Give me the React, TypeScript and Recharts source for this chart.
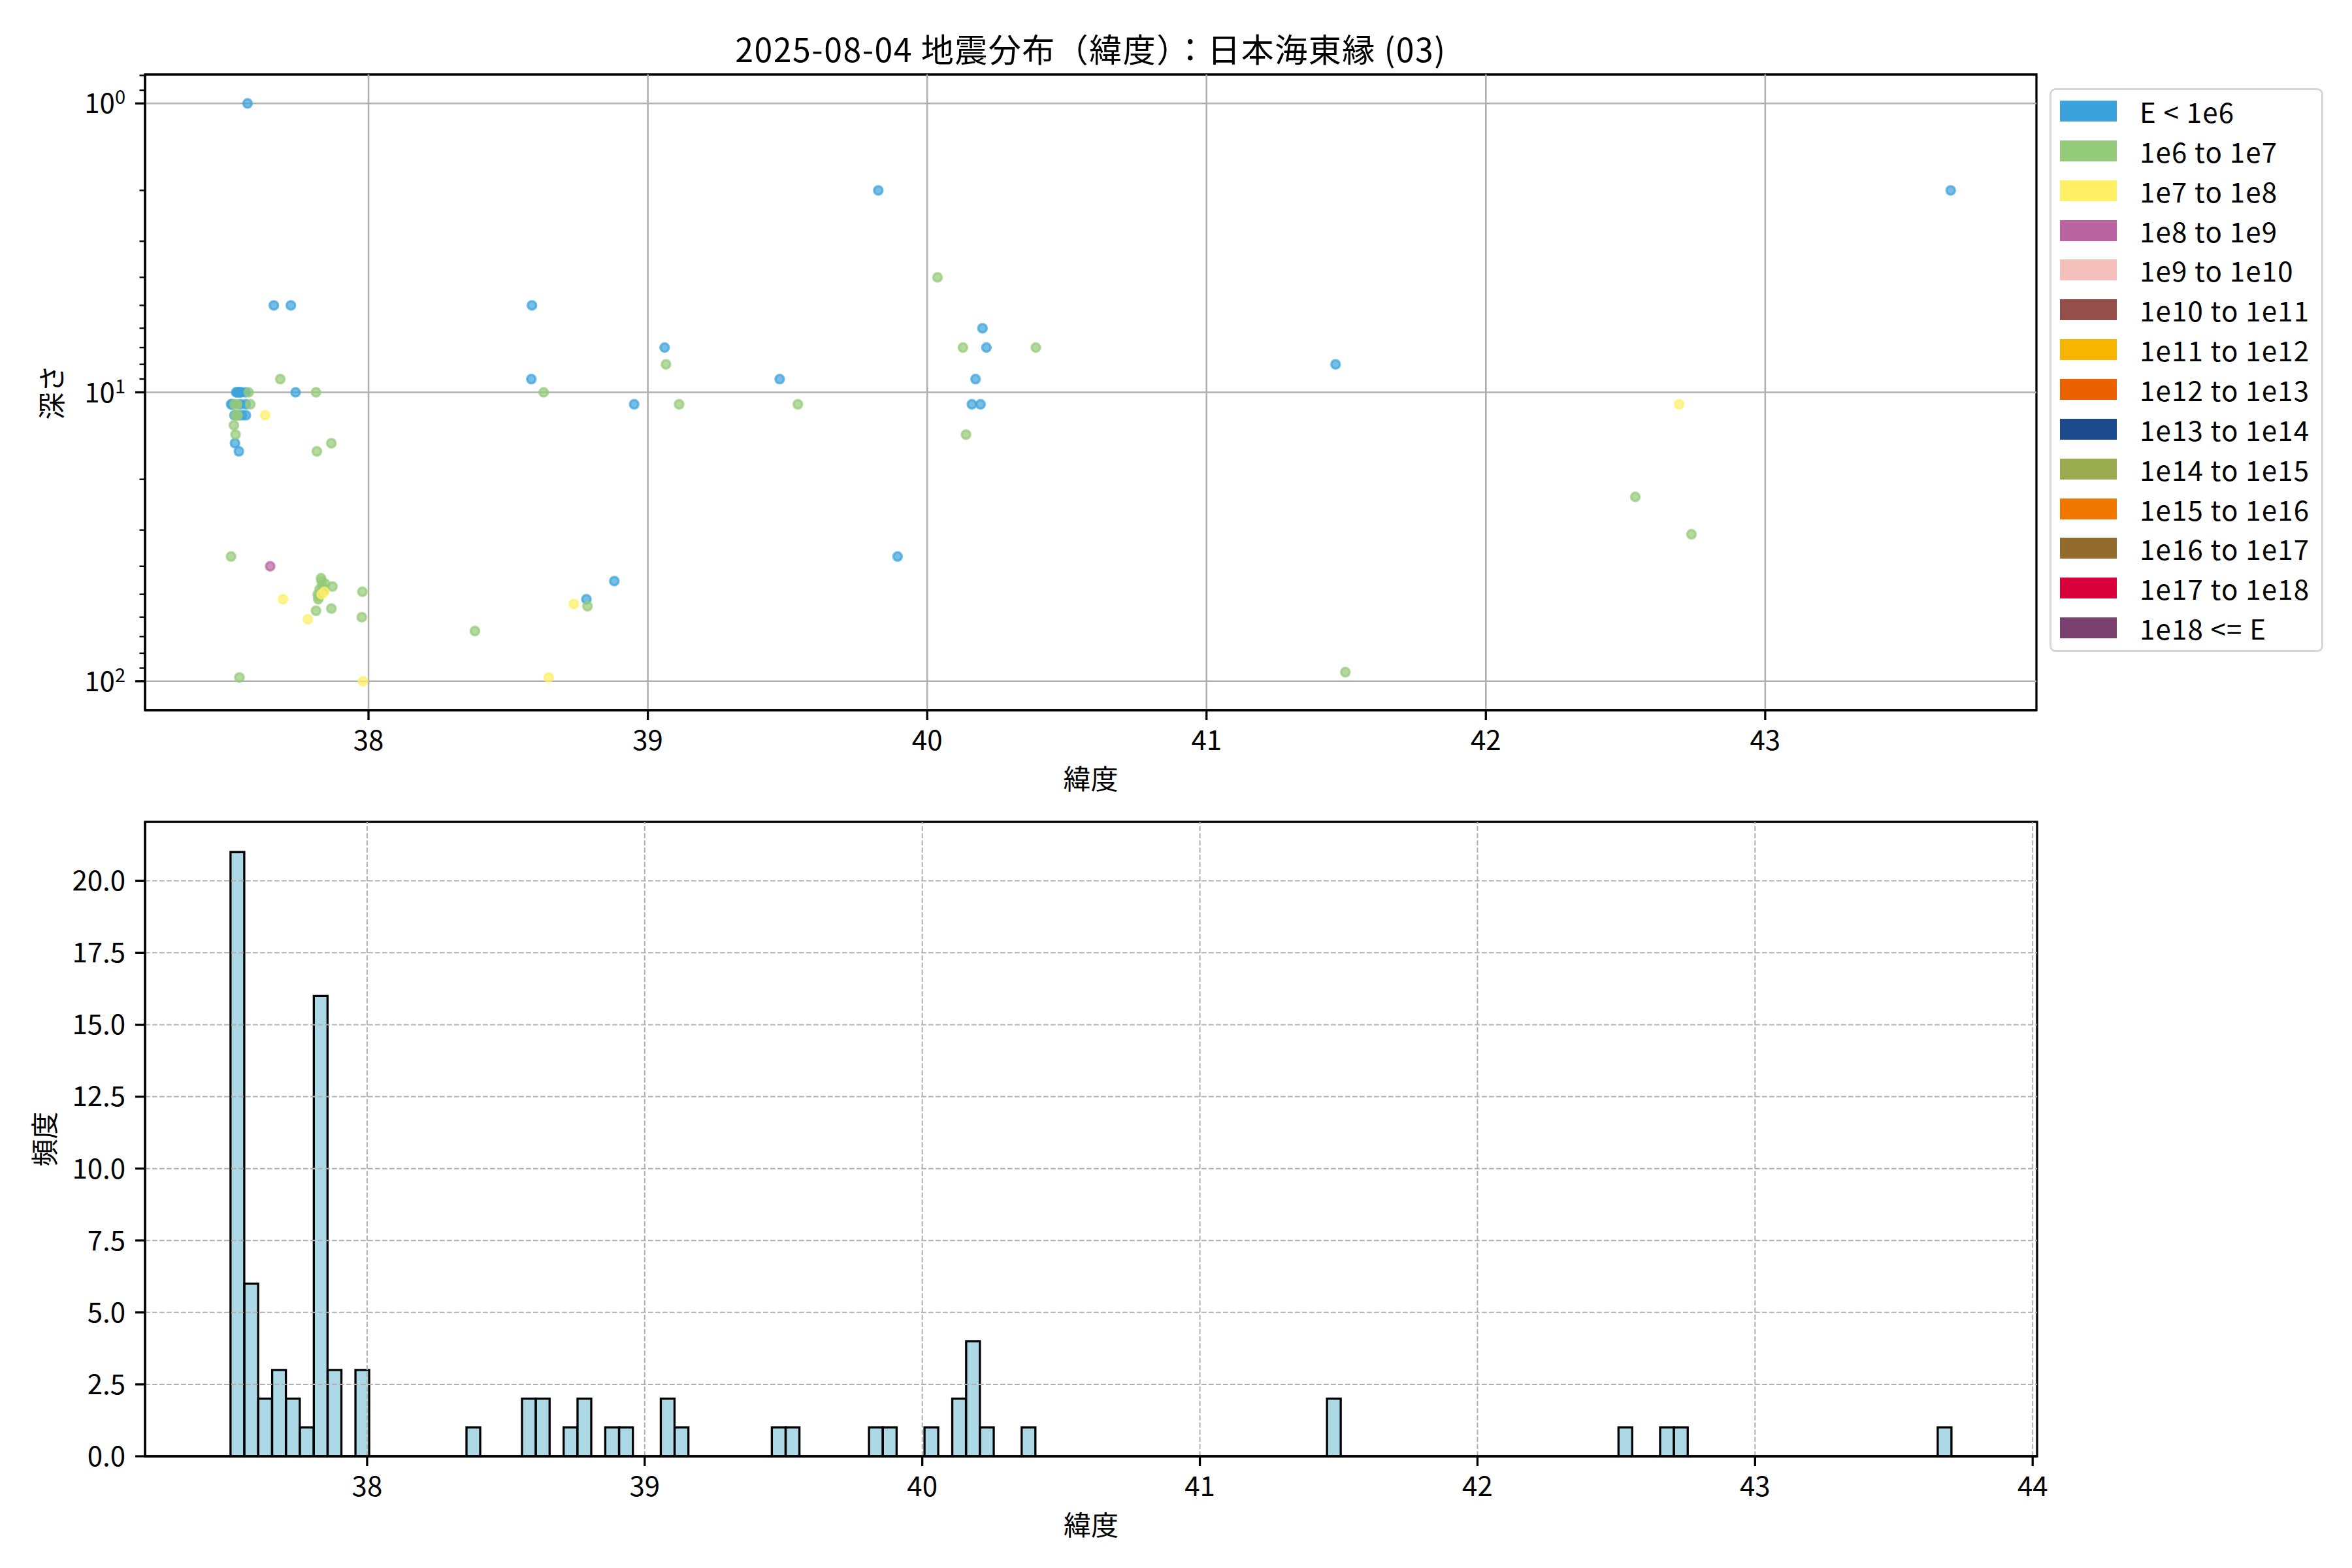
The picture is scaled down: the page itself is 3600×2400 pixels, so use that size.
import { Bar, BarChart, Label, ReferenceArea, ReferenceLine, Scatter, ScatterChart, XAxis, YAxis } from "recharts"

const FONT = '"Noto Sans CJK JP", "Noto Sans", sans-serif'

// scatter: latitude / depth per energy class
const blueLat = [37.567, 37.661, 37.722, 37.526, 37.545, 37.535, 37.54, 37.53, 37.739, 37.508, 37.561, 37.542, 37.512, 37.52, 37.535, 37.561, 37.548, 37.522, 37.536, 37.56, 38.585, 38.583, 39.06, 38.951, 38.88, 38.78, 39.825, 40.198, 40.212, 39.472, 40.173, 40.16, 40.191, 39.894, 41.462, 43.664]
const blueDepth = [1, 5, 5, 10, 10, 10, 10, 10, 10, 11, 11, 11, 11, 12, 12, 12, 12, 15, 16, 10, 5, 9, 7, 11, 45, 52, 2, 6, 7, 9, 9, 11, 11, 37, 8, 2]

const greenLat = [37.571, 37.577, 37.684, 37.52, 37.525, 37.518, 37.524, 37.508, 37.538, 37.53, 37.532, 37.812, 37.815, 37.832, 37.84, 37.818, 37.812, 37.825, 37.835, 37.845, 37.828, 37.838, 37.822, 37.82, 37.83, 37.867, 37.871, 37.867, 37.978, 37.976, 38.627, 39.065, 39.112, 38.784, 38.381, 40.037, 40.128, 40.389, 39.537, 40.139, 41.497, 42.535, 42.736]
const greenDepth = [10, 11, 9, 11, 12, 13, 14, 37, 97, 11, 12, 10, 16, 45, 48, 50, 57, 48, 47, 46, 50, 49, 51, 52, 44, 15, 47, 56, 49, 60, 10, 8, 11, 55, 67, 4, 7, 7, 11, 14, 93, 23, 31]

const yellowLat = [37.63, 37.694, 37.832, 37.842, 37.783, 37.98, 38.735, 38.645, 42.692]
const yellowDepth = [12, 52, 50, 49, 61, 100, 54, 97, 11]

const purpleLat = [37.648]
const purpleDepth = [40]

// histogram bins (left edge, count), bin width 0.05
const binLeft = [37.508, 37.558, 37.608, 37.658, 37.708, 37.758, 37.808, 37.858, 37.958, 38.358, 38.558, 38.608, 38.708, 38.758, 38.858, 38.908, 39.058, 39.108, 39.458, 39.508, 39.808, 39.858, 40.008, 40.108, 40.158, 40.208, 40.358, 41.458, 42.508, 42.658, 42.708, 43.658]
const binCount = [21, 6, 2, 3, 2, 1, 16, 3, 3, 1, 2, 2, 1, 2, 1, 1, 2, 1, 1, 1, 1, 1, 1, 2, 4, 1, 1, 2, 1, 1, 1, 1]
const BIN_WIDTH = 0.05

const latTicksTop = [38, 39, 40, 41, 42, 43]
const latTicksBottom = [38, 39, 40, 41, 42, 43, 44]
const depthTicks = [0.8, 0.9, 1, 2, 3, 4, 5, 6, 7, 8, 9, 10, 20, 30, 40, 50, 60, 70, 80, 90, 100]
const depthMajor = [1, 10, 100]
const countTicks = [0, 2.5, 5, 7.5, 10, 12.5, 15, 17.5, 20]

const energyLabels = ["E < 1e6", "1e6 to 1e7", "1e7 to 1e8", "1e8 to 1e9", "1e9 to 1e10", "1e10 to 1e11", "1e11 to 1e12", "1e12 to 1e13", "1e13 to 1e14", "1e14 to 1e15", "1e15 to 1e16", "1e16 to 1e17", "1e17 to 1e18", "1e18 <= E"]
const energyColors = ["#3ca2dc", "#94cb78", "#fff066", "#b964a1", "#f5bfbb", "#944f4b", "#f7b500", "#eb6100", "#1b4a8f", "#9bab50", "#f07700", "#936b2d", "#d7003a", "#7a4070"]

const toPoints = (lat: number[], depth: number[]) => lat.map((v, i) => ({ lat: v, depth: depth[i] }))
const histData = binLeft.map((v, i) => ({ center: v + BIN_WIDTH / 2, count: binCount[i] }))

const series = [
    { data: toPoints(blueLat, blueDepth), color: energyColors[0] },
    { data: toPoints(greenLat, greenDepth), color: energyColors[1] },
    { data: toPoints(yellowLat, yellowDepth), color: energyColors[2] },
    { data: toPoints(purpleLat, purpleDepth), color: energyColors[3] },
]

const tickStyle = { fontSize: 42, fill: "#000", fontFamily: FONT }
const lineStyle = { stroke: "#000", strokeWidth: 3.3 }
const labelStyle = { fontSize: 42, fill: "#000", fontFamily: FONT }

function DepthTick({ x, y, payload }: any) {
    const v = payload.value
    const major = depthMajor.includes(v)
    const edge = x + 30
    return (
        <g>
            <line x1={edge - (major ? 15 : 8.5)} x2={edge} y1={y} y2={y} stroke="#000" strokeWidth={major ? 3.3 : 2.4} />
            {major && (
                <text x={x} y={y} dy="0.36em" textAnchor="end" fontSize={42} fontFamily={FONT} fill="#000">
                    10
                    <tspan dy={-14} fontSize={29}>
                        {Math.round(Math.log10(v))}
                    </tspan>
                </text>
            )}
        </g>
    )
}

function dot(color: string) {
    return (p: any) => (
        <circle cx={p.cx} cy={p.cy} r={6.5} fill={color} fillOpacity={0.7} stroke={color} strokeOpacity={0.7} strokeWidth={3.5} />
    )
}

function DepthChart() {
    return (
        <ScatterChart width={3600} height={1260} margin={{ top: 114, right: 483, bottom: 43, left: 0 }}>
            <XAxis
                type="number"
                dataKey="lat"
                domain={[37.2, 43.971]}
                allowDataOverflow
                ticks={latTicksTop}
                interval={0}
                height={130}
                tickSize={15}
                tickMargin={16}
                tick={tickStyle}
                tickLine={lineStyle}
                axisLine={lineStyle}
            >
                <Label value="緯度" position="insideBottom" offset={9} style={labelStyle} />
            </XAxis>
            <YAxis
                type="number"
                dataKey="depth"
                scale="log"
                domain={[0.794, 125.9]}
                allowDataOverflow
                reversed
                ticks={depthTicks}
                interval={0}
                width={222}
                tickSize={15}
                tickMargin={15}
                tickLine={false}
                axisLine={lineStyle}
                tick={(p: any) => <DepthTick {...p} />}
            >
                <Label value="深さ" angle={-90} position="insideLeft" offset={80} style={{ ...labelStyle, textAnchor: "middle" }} />
            </YAxis>
            {series.map((s, i) => (
                <Scatter key={i} data={s.data} fill={s.color} shape={dot(s.color)} isAnimationActive={false} />
            ))}
            {latTicksTop.map((v) => (
                <ReferenceLine key={`x${v}`} x={v} stroke="#b0b0b0" strokeWidth={2.6} />
            ))}
            {depthMajor.map((v) => (
                <ReferenceLine key={`y${v}`} y={v} stroke="#b0b0b0" strokeWidth={2.6} />
            ))}
            <ReferenceArea x1={37.2} x2={43.971} y1={0.794} y2={125.9} fill="none" stroke="#000" strokeWidth={3.3} ifOverflow="visible" />
        </ScatterChart>
    )
}

function LatHistogram() {
    return (
        <BarChart width={3600} height={1200} data={histData} margin={{ top: 58, right: 482, bottom: 41, left: 0 }} barCategoryGap={0} barGap={0}>
            <XAxis
                type="number"
                dataKey="center"
                domain={[37.2, 44.016]}
                allowDataOverflow
                ticks={latTicksBottom}
                interval={0}
                height={130}
                tickSize={15}
                tickMargin={16}
                tick={tickStyle}
                tickLine={lineStyle}
                axisLine={lineStyle}
            >
                <Label value="緯度" position="insideBottom" offset={9} style={labelStyle} />
            </XAxis>
            <YAxis
                type="number"
                domain={[0, 22.05]}
                allowDataOverflow
                ticks={countTicks}
                interval={0}
                width={222}
                tickSize={15}
                tickMargin={15}
                tick={tickStyle}
                tickLine={lineStyle}
                axisLine={lineStyle}
                tickFormatter={(v: number) => v.toFixed(1)}
            >
                <Label value="頻度" angle={-90} position="insideLeft" offset={69} style={{ ...labelStyle, textAnchor: "middle" }} />
            </YAxis>
            <Bar dataKey="count" fill="#add8e6" stroke="#000" strokeWidth={3.3} isAnimationActive={false} />
            {latTicksBottom.map((v) => (
                <ReferenceLine key={`x${v}`} x={v} stroke="#b0b0b0" strokeWidth={2} strokeDasharray="7.7 3.3" />
            ))}
            {countTicks.map((v) => (
                <ReferenceLine key={`y${v}`} y={v} stroke="#b0b0b0" strokeWidth={2} strokeDasharray="7.7 3.3" />
            ))}
            <ReferenceArea x1={37.2} x2={44.016} y1={0} y2={22.05} fill="none" stroke="#000" strokeWidth={3.3} ifOverflow="visible" />
        </BarChart>
    )
}

function EnergyLegend() {
    return (
        <div
            style={{
                position: "absolute",
                left: 3137,
                top: 135,
                width: 419,
                height: 863,
                boxSizing: "border-box",
                border: "3px solid #d6d6d6",
                borderRadius: 9,
                background: "#fff",
            }}
        >
            {energyLabels.map((label, i) => (
                <div key={label} style={{ position: "absolute", left: 13, top: 12 + i * 60.85, height: 40, display: "flex", alignItems: "center" }}>
                    <div style={{ width: 87, height: 32, background: energyColors[i] }} />
                    <div style={{ marginLeft: 35, fontSize: 42, lineHeight: "42px", letterSpacing: 1.2, fontFamily: FONT, color: "#000", whiteSpace: "nowrap" }}>{label}</div>
                </div>
            ))}
        </div>
    )
}

export default function App() {
    return (
        <div style={{ position: "relative", width: 3600, height: 2400, background: "#fff", fontFamily: FONT, overflow: "hidden" }}>
            <style>{"body{margin:0}"}</style>
            <div
                style={{
                    position: "absolute",
                    left: 222,
                    width: 2895,
                    top: 48,
                    textAlign: "center",
                    fontSize: 50,
                    lineHeight: "50px",
                    letterSpacing: 1.5,
                    color: "#000",
                    whiteSpace: "nowrap",
                }}
            >
                2025-08-04 地震分布（緯度）：日本海東縁 (03)
            </div>
            <div style={{ position: "absolute", left: 0, top: 0 }}>
                <DepthChart />
            </div>
            <EnergyLegend />
            <div style={{ position: "absolute", left: 0, top: 1200 }}>
                <LatHistogram />
            </div>
        </div>
    )
}
